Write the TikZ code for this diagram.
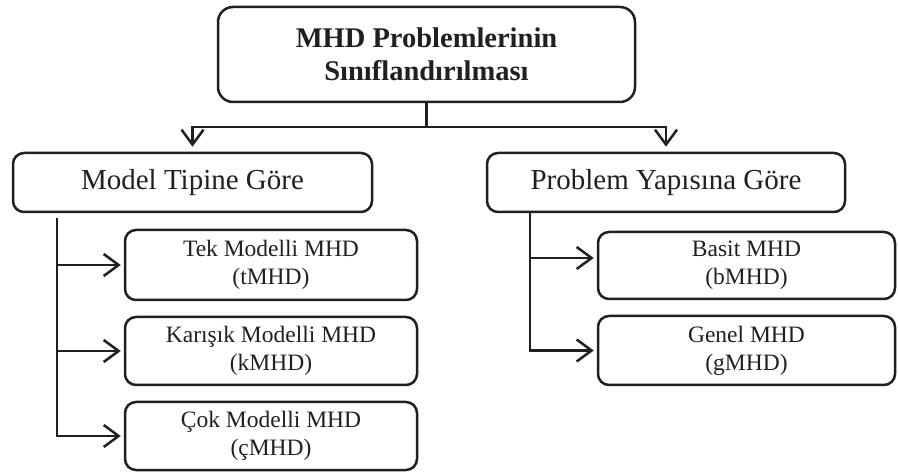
\documentclass[tikz,border=0pt]{standalone}
\usepackage{fontspec}
\setmainfont{Liberation Serif}
\usetikzlibrary{arrows.meta}
\definecolor{ink}{HTML}{231F20}
\begin{document}
\begin{tikzpicture}[x=1pt,y=-1pt,
  every node/.style={text=ink},
  box/.style={draw=ink,line width=2.5pt,rounded corners=11pt,inner sep=0pt,align=center},
  link/.style={draw=ink,line width=2.5pt},
  arr/.style={link,-{Straight Barb[length=15pt,width=22pt,line width=2.5pt]}},
  titlefont/.style={font=\fontsize{28.5}{33}\selectfont\bfseries},
  catfont/.style={font=\fontsize{29}{34}\selectfont},
  subfont/.style={font=\fontsize{23.5}{28}\selectfont}]
\useasboundingbox (0,0) rectangle (898,473);

% root and the two classification criteria
\node[box,rounded corners=15pt,titlefont,minimum width=417pt,minimum height=95pt]
  (root) at (426.5,54.5) {MHD Problemlerinin\\Sınıflandırılması};
\node[box,catfont,minimum width=359pt,minimum height=59pt]
  (model) at (192.5,182.5) {Model Tipine Göre};
\node[box,catfont,minimum width=358pt,minimum height=59pt]
  (yapi) at (666,182.5) {Problem Yapısına Göre};

% classes by model type
\node[box,subfont,minimum width=292pt,minimum height=70pt]
  (tek) at (271,265) {Tek Modelli MHD\\(tMHD)};
\node[box,subfont,minimum width=292pt,minimum height=68pt]
  (kar) at (271,351) {Karışık Modelli MHD\\(kMHD)};
\node[box,subfont,minimum width=292pt,minimum height=68pt]
  (cok) at (271,436) {Çok Modelli MHD\\(çMHD)};

% classes by problem structure
\node[box,subfont,minimum width=297pt,minimum height=67pt]
  (basit) at (746.5,265.5) {Basit MHD\\(bMHD)};
\node[box,subfont,minimum width=297pt,minimum height=69pt]
  (genel) at (746.5,350.5) {Genel MHD\\(gMHD)};

% split below the root
\coordinate (j) at (426.5,127);
\draw[link] (root.south) -- (j);
\draw[arr,shorten >=5pt] (j) -| (model.north);
\draw[arr,shorten >=5pt] (j) -| (yapi.north);

% left branch
\coordinate (lb) at (57,218);
\draw[arr,shorten >=3pt] (lb) |- (cok.west);
\draw[arr,shorten >=3pt] (lb |- tek.west) -- (tek.west);
\draw[arr,shorten >=3pt] (lb |- kar.west) -- (kar.west);

% right branch
\coordinate (rb) at (530,258);
\draw[arr,shorten >=3pt] (yapi.south -| rb) |- (genel.west);
\draw[arr,shorten >=3pt] (rb) -- (rb -| basit.west);
\end{tikzpicture}
\end{document}
